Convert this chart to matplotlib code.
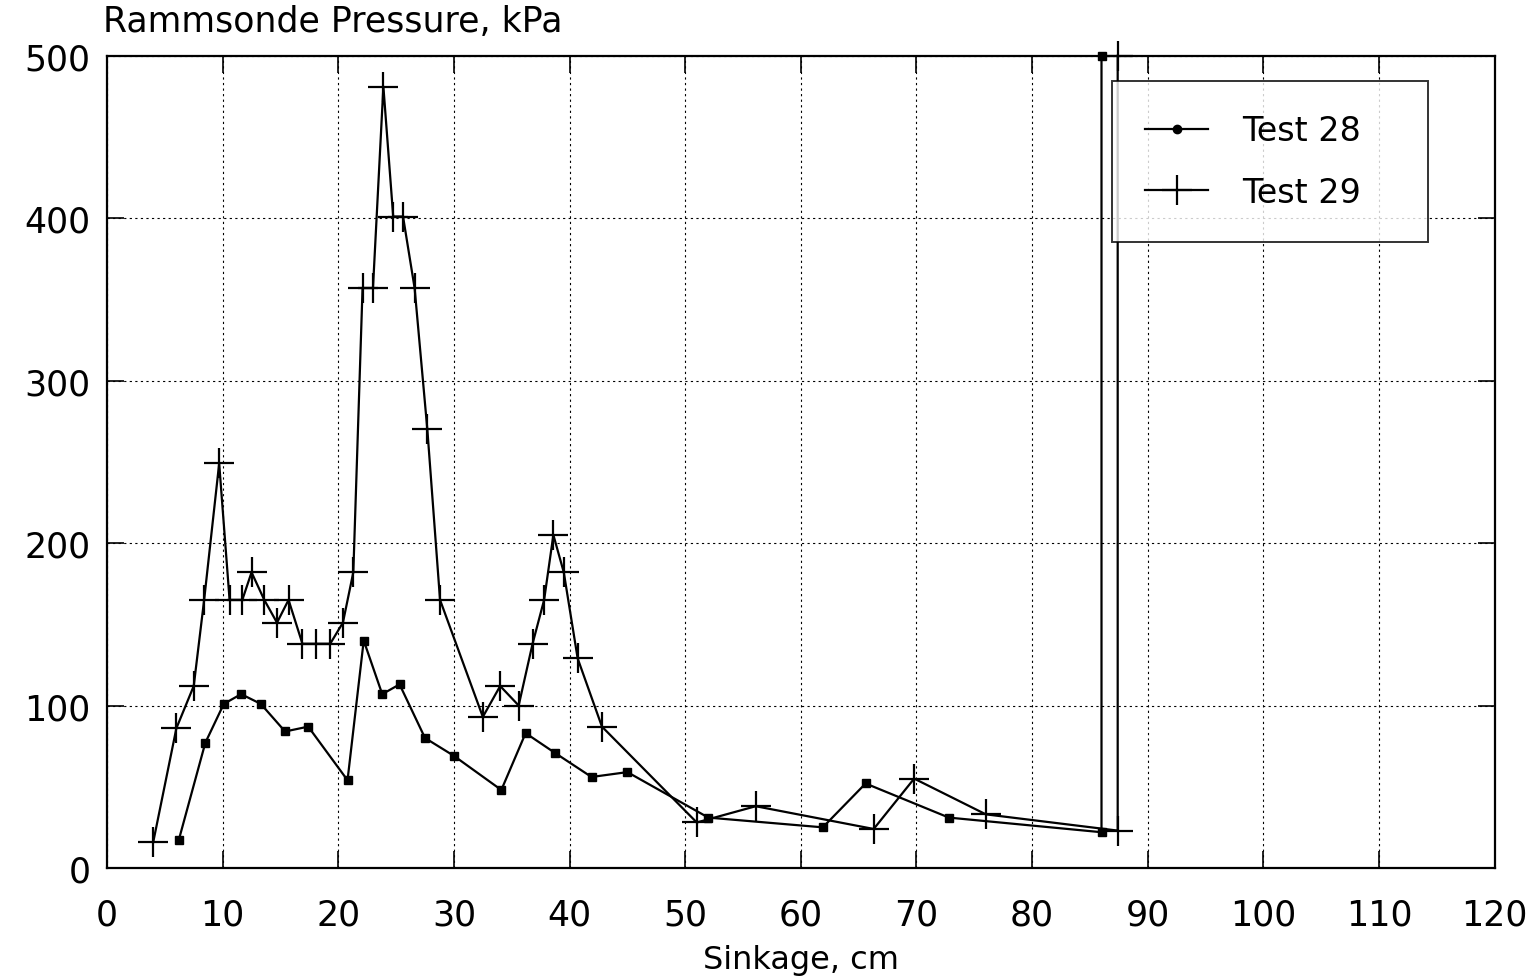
import numpy as np
import matplotlib.pyplot as plt

# Test 28 (dots)
x28 = [6.2, 8.5, 10.1, 11.6, 13.3, 15.4, 17.4, 20.8, 22.2, 23.8, 25.3, 27.5, 30.0,
       34.1, 36.2, 38.7, 41.9, 45.0, 52.0, 61.9, 65.6, 72.8, 86.0, 86.0]
y28 = [17, 77, 101, 107, 101, 84, 87, 54, 140, 107, 113, 80, 69,
       48, 83, 71, 56, 59, 31, 25, 52, 31, 22, 500]

# Test 29 (crosses)
x29 = [4.0, 6.0, 7.5, 8.4, 9.7, 10.6, 11.7, 12.5, 13.6, 14.7, 15.7, 16.9, 18.1, 19.3,
       20.4, 21.3, 22.1, 23.0, 23.9, 24.75, 25.6, 26.6, 27.7, 28.8, 32.5, 34.0, 35.6,
       36.8, 37.8, 38.6, 39.5, 40.7, 42.8, 51.0, 56.1, 66.3, 69.8, 76.0, 87.4, 87.4]
y29 = [16, 86, 112, 165, 249, 165, 165, 182, 165, 151, 165, 138, 138, 138,
       151, 182, 357, 357, 481, 401, 401, 357, 270, 165, 93, 112, 100,
       138, 165, 205, 182, 129, 87, 28, 38, 24, 55, 33, 23, 500]

xticks = list(range(0, 121, 10))
yticks = list(range(0, 501, 100))

plt.rcParams['font.family'] = ['DejaVu Sans']

fig = plt.figure(figsize=(15.33, 9.78), dpi=100)
ax = fig.add_axes([0.0698, 0.1115, 0.9052, 0.8305])

ax.plot(x28, y28, color='black', lw=1.6, marker='s', ms=5.5,
        clip_on=False, label='Test 28', zorder=3)
ax.plot(x29, y29, color='black', lw=1.6, marker='+', ms=21, mew=1.6,
        clip_on=False, label='Test 29', zorder=3)

ax.set_xlim(0, 120)
ax.set_ylim(0, 500)
ax.set_xticks(xticks)
ax.set_yticks(yticks)
ax.tick_params(direction='in', length=12, width=1.2, labelsize=25,
               top=True, right=True)
ax.tick_params(axis='x', pad=21)
ax.tick_params(axis='y', pad=12)
ax.grid(True, color='black', linestyle=(0, (2, 3)), linewidth=0.8)
for s in ax.spines.values():
    s.set_linewidth(1.6)

ax.set_xlabel('Sinkage, cm', fontsize=23, labelpad=9)
fig.text(0.067, 0.977, 'Rammsonde Pressure, kPa', fontsize=25,
         ha='left', va='center')

leg = ax.legend(loc='upper left', bbox_to_anchor=(0.724, 0.7744, 0.2277, 0.1946),
                mode='expand', borderaxespad=0,
                fontsize=24, frameon=True, fancybox=False, edgecolor='black',
                handlelength=1.9, handletextpad=1.0, borderpad=1.0,
                labelspacing=0.85)
leg.get_frame().set_linewidth(1.4)
leg.legend_handles[0].set_marker('o')
leg.legend_handles[0].set_markersize(6)

fig.savefig('out.png', dpi=100)
